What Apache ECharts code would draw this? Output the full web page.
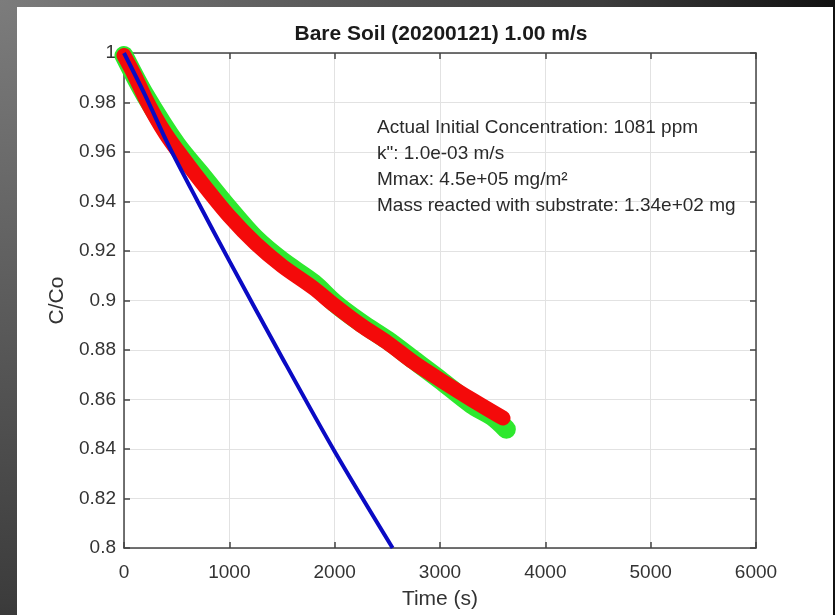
<!DOCTYPE html>
<html>
<head>
    <meta charset="utf-8">
    <title>Bare Soil (20200121) 1.00 m/s</title>
    <script src="https://cdn.jsdelivr.net/npm/echarts@6/dist/echarts.min.js"></script>
    <style>
        html, body { margin: 0; padding: 0; }
        #chart { width: 835px; height: 615px; }
    </style>
</head>
<body>
    <div id="chart"></div>
    <script type="text/javascript">
        // values
        var redTime = [0, 100, 200, 300, 400, 500, 750, 1000, 1250, 1500, 1800, 2000, 2250, 2500, 2750, 3000, 3300, 3598];
        var redC = [0.999, 0.991, 0.982, 0.974, 0.967, 0.961, 0.947, 0.934, 0.923, 0.914, 0.905, 0.898, 0.890, 0.883, 0.875, 0.868, 0.860, 0.8525];
        var greenTime = [0, 200, 500, 750, 1000, 1250, 1500, 1800, 2000, 2250, 2500, 2750, 3000, 3300, 3500, 3630];
        var greenC = [0.999, 0.983, 0.963, 0.950, 0.937, 0.925, 0.916, 0.907, 0.899, 0.891, 0.884, 0.876, 0.868, 0.858, 0.853, 0.848];
        var blueTime = [0, 200, 420, 700, 1000, 1500, 2000, 2550];
        var blueC = [1.0, 0.983, 0.963, 0.940, 0.916, 0.877, 0.839, 0.8];
        var xTicks = [0, 1000, 2000, 3000, 4000, 5000, 6000];
        var annotationLines = [
            'Actual Initial Concentration: 1081 ppm',
            'k": 1.0e-03 m/s',
            'Mmax: 4.5e+05 mg/m\u00b2',
            'Mass reacted with substrate: 1.34e+02 mg'
        ];

        function pairs(xs, ys) {
            var out = [];
            for (var i = 0; i < xs.length; i++) {
                out.push([xs[i], ys[i]]);
            }
            return out;
        }

        var font = 'Liberation Sans, Arial, Helvetica, sans-serif';
        var axisColor = '#444';
        var tickStyle = { show: true, inside: true, length: 6, lineStyle: { color: axisColor, width: 1.5 } };
        var lineStyleAxis = { show: true, onZero: false, lineStyle: { color: axisColor, width: 1.5 } };

        var chart = echarts.init(document.getElementById('chart'));

        var notes = [];
        var noteY = [129, 155, 181, 207];
        for (var i = 0; i < annotationLines.length; i++) {
            notes.push({
                type: 'text',
                left: 377,
                top: noteY[i] - 11,
                z: 50,
                style: {
                    text: annotationLines[i],
                    fill: '#2a2a2a',
                    font: '19px ' + font
                }
            });
        }

        var option = {
            backgroundColor: {
                type: 'radial', x: 0, y: 0, r: 1.36,
                colorStops: [
                    { offset: 0, color: '#7c7c7c' },
                    { offset: 0.72, color: '#3c3c3c' },
                    { offset: 1, color: '#111111' }
                ]
            },
            animation: false,
            graphic: {
                elements: [{
                    type: 'rect',
                    z: -100,
                    silent: true,
                    shape: { x: 17, y: 7, width: 816, height: 608 },
                    style: { fill: '#ffffff' }
                }].concat(notes)
            },
            title: {
                text: 'Bare Soil (20200121) 1.00 m/s',
                left: 436,
                top: 19,
                textAlign: 'center',
                textStyle: { fontFamily: font, fontSize: 21, fontWeight: 'bold', color: '#1a1a1a' }
            },
            grid: { left: 124, top: 53, width: 632, height: 499 },
            xAxis: [
                {
                    type: 'value',
                    min: xTicks[0],
                    max: xTicks[xTicks.length - 1],
                    interval: 1000,
                    name: 'Time (s)',
                    nameLocation: 'middle',
                    nameGap: 41,
                    nameTextStyle: { fontFamily: font, fontSize: 21, color: '#333' },
                    axisLine: lineStyleAxis,
                    axisTick: tickStyle,
                    axisLabel: {
                        fontFamily: font, fontSize: 19, color: '#333', margin: 15,
                        formatter: function (v) { return String(v); }
                    },
                    splitLine: { show: true, lineStyle: { color: '#e2e2e2', width: 1 } }
                },
                {
                    type: 'value',
                    position: 'top',
                    min: 0,
                    max: 6000,
                    interval: 1000,
                    axisLine: lineStyleAxis,
                    axisTick: tickStyle,
                    axisLabel: { show: false },
                    splitLine: { show: false }
                }
            ],
            yAxis: [
                {
                    type: 'value',
                    min: 0.8,
                    max: 1,
                    interval: 0.02,
                    name: 'C/Co',
                    nameLocation: 'middle',
                    nameGap: 53,
                    nameRotate: 90,
                    nameTextStyle: { fontFamily: font, fontSize: 21, color: '#333' },
                    axisLine: lineStyleAxis,
                    axisTick: tickStyle,
                    axisLabel: { fontFamily: font, fontSize: 19, color: '#333', margin: 8 },
                    splitLine: { show: true, lineStyle: { color: '#e2e2e2', width: 1 } }
                },
                {
                    type: 'value',
                    position: 'right',
                    min: 0.8,
                    max: 1,
                    interval: 0.02,
                    axisLine: lineStyleAxis,
                    axisTick: tickStyle,
                    axisLabel: { show: false },
                    splitLine: { show: false }
                }
            ],
            series: [
                {
                    name: 'green',
                    type: 'line',
                    data: pairs(greenTime, greenC),
                    symbol: 'none',
                    smooth: 0.3,
                    clip: false,
                    z: 3,
                    lineStyle: { color: '#2ee82e', width: 19, cap: 'round', join: 'round' }
                },
                {
                    name: 'red',
                    type: 'line',
                    data: pairs(redTime, redC),
                    symbol: 'none',
                    smooth: 0.3,
                    clip: false,
                    z: 4,
                    lineStyle: { color: '#f40a0a', width: 15, cap: 'round', join: 'round' }
                },
                {
                    name: 'blue',
                    type: 'line',
                    data: pairs(blueTime, blueC),
                    symbol: 'none',
                    smooth: 0.3,
                    z: 5,
                    lineStyle: { color: '#0a0ac4', width: 4 }
                }
            ]
        };
        chart.setOption(option);
    </script>
</body>
</html>
